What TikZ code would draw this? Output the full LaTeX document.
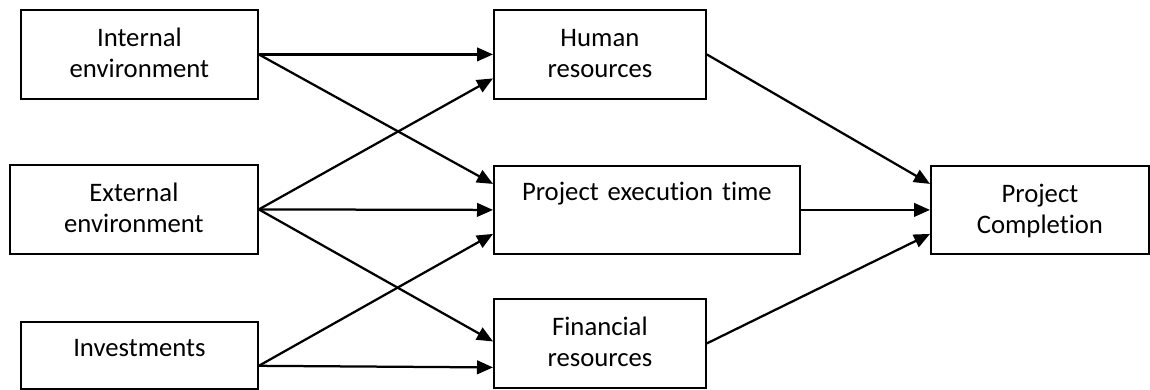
\documentclass[tikz,border=0pt]{standalone}
\usepackage{fontspec}
\setmainfont{Carlito}[Ligatures=NoCommon]
\usetikzlibrary{arrows.meta}
\tikzset{
    blockbox/.style={
        draw, line width=1.3pt, rectangle, inner sep=0pt,
        align=center, anchor=north west,
        font=\fontsize{19}{22}\selectfont,
        text height=0.925cm, text depth=1.3cm
    },
    linkarrow/.style={
        line width=1.6pt,
        -{Triangle[length=0.4cm, width=0.34cm]}
    }
}

\begin{document}
\begin{tikzpicture}

    \useasboundingbox (0,0) rectangle (28.75,-9.725);

    % left column
    \node[blockbox, text width=5.925cm] (intern) at (0.5,-0.225) {Internal\\ environment};
    \node[blockbox, text width=6.2cm] (extern) at (0.225,-4.1) {External\\ environment};
    \node[blockbox, text width=5.925cm, text height=0.875cm, text depth=0.8cm]
        (invest) at (0.5,-8.025) {Investments};

    % middle column
    \node[blockbox, text width=5.3cm] (human) at (12.325,-0.225) {Human\\ resources};
    \node[blockbox, text width=7.65cm, text height=0.875cm, text depth=1.325cm]
        (exectime) at (12.325,-4.125) {Project execution time};
    \node[blockbox, text width=5.3cm] (finance) at (12.325,-7.45) {Financial\\ resources};

    % right
    \node[blockbox, text width=5.45cm, text depth=1.275cm]
        (complete) at (23.25,-4.125) {Project\\ Completion};

    \draw[linkarrow] (intern.east) -- (human.west);
    \draw[linkarrow] (intern.east) -- ([yshift=0.65cm]exectime.west);

    \draw[linkarrow] (extern.east) -- ([yshift=-0.6cm]human.west);
    \draw[linkarrow] (extern.east) -- (exectime.west);
    \draw[linkarrow] (extern.east) -- ([yshift=0.05cm]finance.west);

    \draw[linkarrow] ([yshift=-0.26cm]invest.east) -- ([yshift=-0.6cm]exectime.west);
    \draw[linkarrow] ([yshift=-0.26cm]invest.east) -- ([yshift=-0.6cm]finance.west);

    \draw[linkarrow] (human.east) -- ([yshift=0.65cm]complete.west);
    \draw[linkarrow] (exectime.east) -- (complete.west);
    \draw[linkarrow] (finance.east) -- ([yshift=-0.6cm]complete.west);

\end{tikzpicture}
\end{document}
